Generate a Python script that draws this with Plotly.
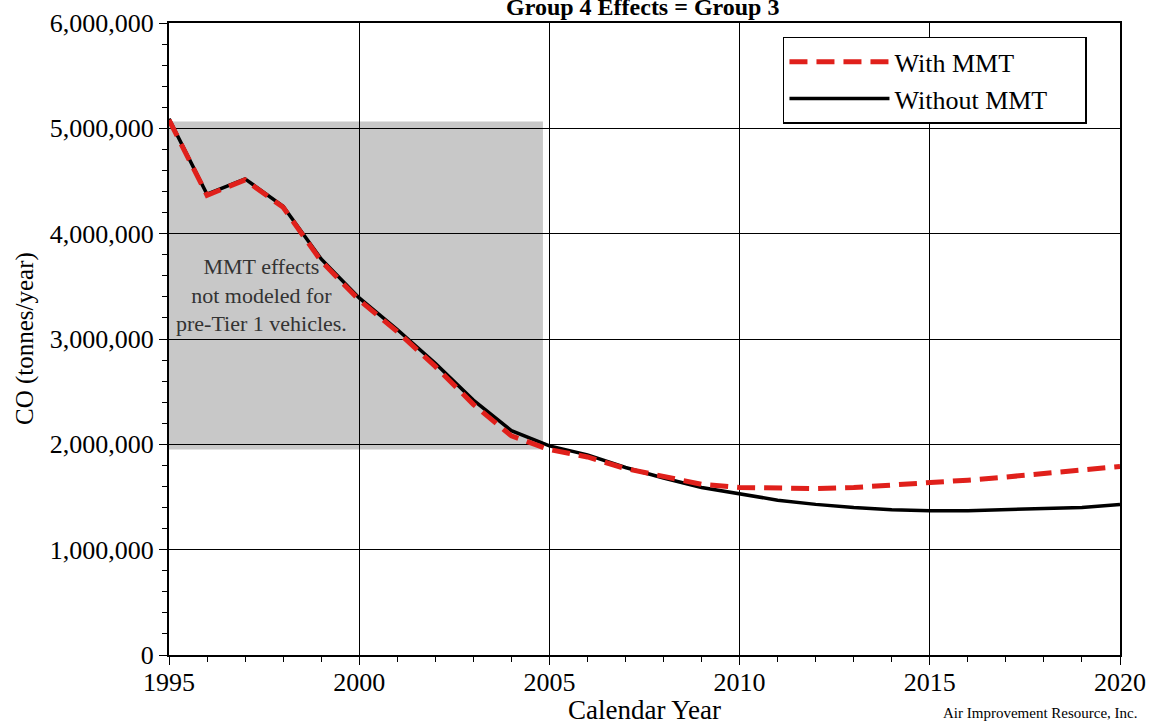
import plotly.graph_objects as go

years = list(range(1995, 2021))
without_mmt = [5090000, 4375000, 4520000, 4260000, 3760000, 3390000, 3090000, 2770000, 2420000, 2130000,
               1985000, 1900000, 1780000, 1680000, 1590000, 1530000, 1470000, 1430000, 1400000, 1380000,
               1370000, 1370000, 1380000, 1390000, 1400000, 1430000]
with_mmt = [5080000, 4365000, 4510000, 4250000, 3740000, 3370000, 3070000, 2740000, 2380000, 2080000,
            1950000, 1880000, 1770000, 1690000, 1620000, 1590000, 1580000, 1580000, 1590000, 1610000,
            1640000, 1660000, 1690000, 1720000, 1750000, 1790000]
shade_x = [1995, 2004.83]
shade_y = [1950000, 5065000]
note_text = "MMT effects<br>not modeled for<br>pre-Tier 1 vehicles."
note_pos = [1997.42, 3420000]

SERIF = "Liberation Serif, Times New Roman, serif"
NB = "\u00a0"

fig = go.Figure()
fig.add_trace(go.Scatter(x=years, y=without_mmt, mode="lines", name="Without MMT" + NB * 5, legendrank=2,
                         line=dict(color="black", width=3.5)))
fig.add_trace(go.Scatter(x=years, y=with_mmt, mode="lines", name="With MMT", legendrank=1,
                         line=dict(color="#e0201b", width=5, dash="18px,9px")))

fig.add_shape(type="rect", xref="x", yref="y", x0=shade_x[0], x1=shade_x[1], y0=shade_y[0], y1=shade_y[1],
              fillcolor="#c8c8c8", line=dict(width=0), layer="below")

fig.add_annotation(x=note_pos[0], y=note_pos[1], xref="x", yref="y", text=note_text, showarrow=False,
                   font=dict(family=SERIF, size=22, color="#333"), align="center")
fig.add_annotation(x=0.498, y=1, xref="paper", yref="paper", xanchor="center", yanchor="middle", yshift=16,
                   text="<b>Group 4 Effects = Group 3</b>", showarrow=False,
                   font=dict(family=SERIF, size=24, color="black"))
fig.add_annotation(x=0, y=0.5, xref="paper", yref="paper", xanchor="center", yanchor="middle",
                   xshift=-144, textangle=-90,
                   text="CO (tonnes/year)", showarrow=False,
                   font=dict(family=SERIF, size=25, color="black"))
fig.add_annotation(x=0.5, y=0, xref="paper", yref="paper", yshift=-55, xanchor="center", yanchor="middle",
                   text="Calendar Year", showarrow=False,
                   font=dict(family=SERIF, size=27, color="black"))
fig.add_annotation(x=1, y=0, xref="paper", yref="paper", yshift=-58, yanchor="middle", xanchor="right", xshift=20,
                   text="Air Improvement Resource, Inc.", showarrow=False,
                   font=dict(family=SERIF, size=15, color="black"))

fig.update_layout(
    width=1151, height=725,
    margin=dict(l=169, r=31, t=23, b=70),
    paper_bgcolor="white", plot_bgcolor="white",
    showlegend=True,
    legend=dict(x=0.6456, y=0.978, xanchor="left", yanchor="top", itemwidth=100,
                bgcolor="white", bordercolor="black", borderwidth=1.5,
                font=dict(family=SERIF, size=26, color="black")),
    xaxis=dict(range=[1995, 2020], dtick=5, tick0=1995, showgrid=True, gridcolor="black", gridwidth=1.2,
               showline=True, linecolor="black", linewidth=2, mirror=True, automargin=False,
               ticks="outside", ticklen=8, tickcolor="black", ticklabelstandoff=-5,
               minor=dict(dtick=1, ticks="outside", ticklen=5, tickcolor="black", showgrid=False),
               tickfont=dict(family=SERIF, size=26, color="black"), zeroline=False),
    yaxis=dict(range=[0, 6000000], dtick=1000000, tickformat=",d", showgrid=True, gridcolor="black", gridwidth=1.2,
               showline=True, linecolor="black", linewidth=2, mirror=True, automargin=False,
               ticks="outside", ticklen=8, tickcolor="black",
               minor=dict(dtick=200000, ticks="outside", ticklen=5, tickcolor="black", showgrid=False),
               tickfont=dict(family=SERIF, size=26, color="black"), zeroline=False),
)

fig.write_html("out.html", config={"displayModeBar": False},
               post_script="document.body.style.margin='0px';")
